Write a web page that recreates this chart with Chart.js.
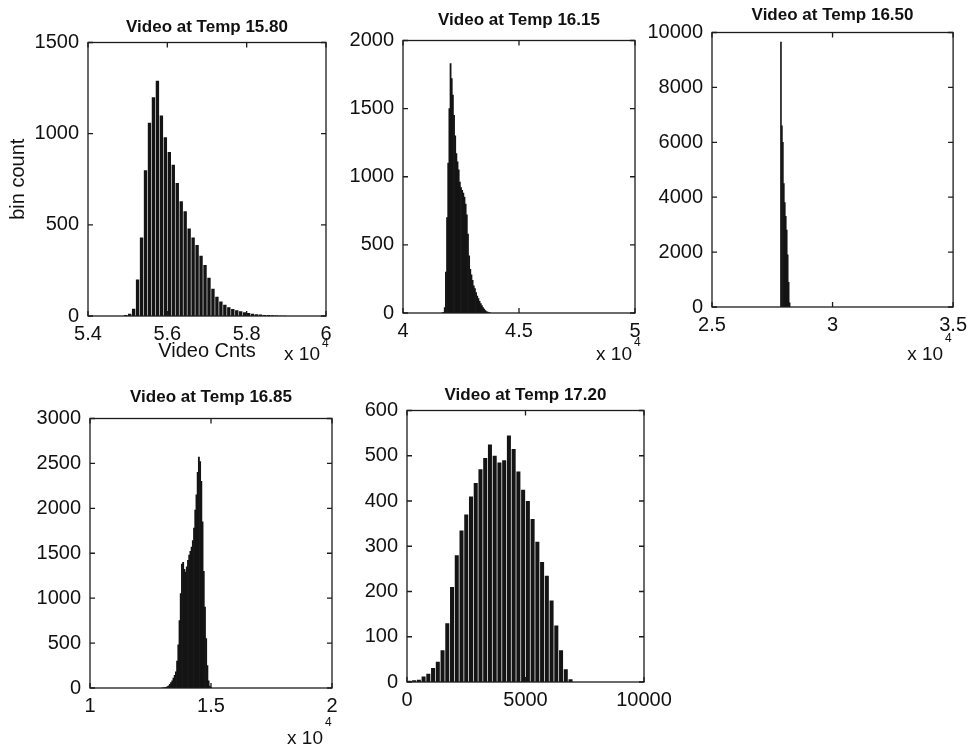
<!DOCTYPE html>
<html>
<head>
<meta charset="utf-8">
<title>Video histograms</title>
<script src="https://cdn.jsdelivr.net/npm/chart.js@4.4.1/dist/chart.umd.min.js"></script>
<style>
  html, body { margin: 0; padding: 0; background: #fff; }
  body { width: 973px; height: 746px; position: relative; overflow: hidden; }
  canvas { position: absolute; }
</style>
</head>
<body>
<canvas id="h1580"></canvas>
<canvas id="h1615"></canvas>
<canvas id="h1650"></canvas>
<canvas id="h1685"></canvas>
<canvas id="h1720"></canvas>
<script>
// Temp 15.80
const bins1580 = [54950, 55050, 55150, 55250, 55350, 55450, 55550, 55650, 55750, 55850,
  55950, 56050, 56150, 56250, 56350, 56450, 56550, 56650, 56750, 56850,
  56950, 57050, 57150, 57250, 57350, 57450, 57550, 57650, 57750, 57850,
  57950, 58050, 58150, 58250, 58350, 58450, 58550, 58650, 58750, 58850, 58950]
const counts1580 = [5, 12, 40, 200, 430, 800, 1060, 1200, 1290, 1100,
  980, 900, 830, 730, 630, 575, 480, 430, 390, 330,
  280, 210, 150, 105, 80, 62, 48, 38, 32, 26,
  20, 16, 12, 10, 8, 6, 5, 4, 3, 2, 2]

// Temp 16.15
const bins1615 = [41700, 41750, 41800, 41850, 41900, 41950, 42000, 42050, 42100, 42150,
  42200, 42250, 42300, 42350, 42400, 42450, 42500, 42550, 42600, 42650,
  42700, 42750, 42800, 42850, 42900, 42950, 43000, 43050, 43100, 43150,
  43200, 43250, 43300, 43350, 43400, 43450, 43500, 43550, 43600, 43650, 43700, 43750]
const counts1615 = [2, 5, 40, 300, 700, 1100, 1500, 1830, 1720, 1600,
  1450, 1300, 1170, 1110, 1050, 960, 920, 900, 880, 850,
  800, 720, 580, 420, 320, 280, 240, 200, 180, 150,
  125, 105, 85, 70, 55, 40, 28, 18, 10, 6, 3, 1]

// Temp 16.50
const bins1650 = [27860, 27900, 27940, 27980, 28020, 28060, 28100, 28140, 28180, 28220]
const counts1650 = [9650, 6600, 6000, 4500, 3800, 3300, 2800, 1900, 900, 150]

// Temp 16.85
const bins1685 = [13000, 13050, 13100, 13150, 13200, 13250, 13300, 13350, 13400, 13450,
  13500, 13550, 13600, 13650, 13700, 13750, 13800, 13850, 13900, 13950,
  14000, 14050, 14100, 14150, 14200, 14250, 14300, 14350, 14400, 14450,
  14500, 14550, 14600, 14650, 14700, 14750, 14800, 14850, 14900, 14950, 15000]
const counts1685 = [2, 3, 5, 8, 15, 25, 40, 60, 80, 110,
  140, 180, 300, 480, 750, 1050, 1380, 1400, 1320, 1290,
  1350, 1420, 1480, 1520, 1570, 1640, 1780, 1980, 2150, 2400,
  2570, 2520, 2300, 1850, 1300, 900, 550, 250, 80, 20, 5]

// Temp 17.20
const bins1720 = [100, 300, 500, 700, 900, 1100, 1300, 1500, 1700, 1900,
  2100, 2300, 2500, 2700, 2900, 3100, 3300, 3500, 3700, 3900,
  4100, 4300, 4500, 4700, 4900, 5100, 5300, 5500, 5700, 5900,
  6100, 6300, 6500, 6700, 6900]
const counts1720 = [3, 4, 5, 12, 18, 31, 45, 70, 130, 210,
  280, 335, 370, 410, 440, 470, 495, 525, 500, 485,
  490, 545, 515, 465, 425, 400, 360, 310, 265, 235,
  180, 125, 70, 28, 6]

// axis ticks
const xTicks1580 = [54000, 56000, 58000, 60000]
const xLabels1580 = ['5.4', '5.6', '5.8', '6']
const yTicks1580 = [0, 500, 1000, 1500]
const xTicks1615 = [40000, 45000, 50000]
const xLabels1615 = ['4', '4.5', '5']
const yTicks1615 = [0, 500, 1000, 1500, 2000]
const xTicks1650 = [25000, 30000, 35000]
const xLabels1650 = ['2.5', '3', '3.5']
const yTicks1650 = [0, 2000, 4000, 6000, 8000, 10000]
const xTicks1685 = [10000, 15000, 20000]
const xLabels1685 = ['1', '1.5', '2']
const yTicks1685 = [0, 500, 1000, 1500, 2000, 2500, 3000]
const xTicks1720 = [0, 5000, 10000]
const xLabels1720 = ['0', '5000', '10000']
const yTicks1720 = [0, 100, 200, 300, 400, 500, 600]

const titles = ['Video at Temp 15.80', 'Video at Temp 16.15', 'Video at Temp 16.50',
  'Video at Temp 16.85', 'Video at Temp 17.20']

;(() => {
  'use strict'

  Chart.defaults.font.family = '"Liberation Sans", Arial, sans-serif'
  Chart.defaults.color = '#111'

  // matlab style box with inward ticks, plus the "x 10^4" exponent
  const frame = {
    id: 'frame',
    afterDatasetsDraw(chart, args, opts) {
      const { ctx, chartArea: a, scales: { x, y } } = chart
      ctx.save()
      ctx.strokeStyle = '#1c1c1c'
      ctx.lineWidth = 1.3
      ctx.strokeRect(a.left, a.top, a.right - a.left, a.bottom - a.top)
      ctx.beginPath()
      x.ticks.forEach(t => {
        const px = x.getPixelForValue(t.value)
        ctx.moveTo(px, a.bottom); ctx.lineTo(px, a.bottom - 5)
        ctx.moveTo(px, a.top); ctx.lineTo(px, a.top + 5)
      })
      y.ticks.forEach(t => {
        const py = y.getPixelForValue(t.value)
        ctx.moveTo(a.left, py); ctx.lineTo(a.left + 5, py)
        ctx.moveTo(a.right, py); ctx.lineTo(a.right - 5, py)
      })
      ctx.stroke()
      if (opts.dy) {
        ctx.fillStyle = '#111'
        ctx.textBaseline = 'alphabetic'
        ctx.font = '19px "Liberation Sans", Arial, sans-serif'
        ctx.textAlign = 'right'
        ctx.fillText('x 10', a.right + opts.dx, a.bottom + opts.dy)
        ctx.font = '12px "Liberation Sans", Arial, sans-serif'
        ctx.textAlign = 'left'
        ctx.fillText('4', a.right + opts.dx + 2, a.bottom + opts.sy)
      }
      ctx.restore()
    }
  }

  function hist (id, p) {
    const el = document.getElementById(id)
    const titleH = 19 + p.tb
    const xH = 50
    const padB = 14
    el.width = p.yW + (p.R - p.L) + p.rp
    el.height = titleH + (p.B - p.T) + xH + padB
    el.style.left = (p.L - p.yW) + 'px'
    el.style.top = (p.T - titleH) + 'px'

    return new Chart(el, {
      type: 'bar',
      data: {
        datasets: [{
          data: p.bins.map((b, i) => ({ x: b, y: p.counts[i] })),
          backgroundColor: '#141414',
          borderWidth: 0,
          barPercentage: p.bar,
          categoryPercentage: 1
        }]
      },
      plugins: [frame],
      options: {
        responsive: false,
        animation: false,
        layout: { padding: { left: 0, top: 0, right: p.rp, bottom: padB } },
        plugins: {
          legend: { display: false },
          tooltip: { enabled: false },
          title: {
            display: true,
            text: p.title,
            fullSize: false,
            color: '#111',
            font: { size: 17, weight: 'bold', lineHeight: 1 },
            padding: { top: 2, bottom: p.tb }
          },
          frame: p.expo || {}
        },
        scales: {
          x: {
            type: 'linear',
            min: p.xTicks[0],
            max: p.xTicks[p.xTicks.length - 1],
            offset: false,
            grid: { display: false, drawTicks: false },
            border: { display: false },
            afterBuildTicks: s => { s.ticks = p.xTicks.map(v => ({ value: v })) },
            afterFit: s => { s.height = xH },
            ticks: {
              autoSkip: false,
              maxRotation: 0,
              padding: 6,
              font: { size: 20 },
              callback: (v, i) => p.xLabels[i]
            },
            title: {
              display: !!p.xTitle,
              text: p.xTitle || '',
              font: { size: 20 },
              padding: { top: 0, bottom: 3 }
            }
          },
          y: {
            min: 0,
            max: p.yTicks[p.yTicks.length - 1],
            grid: { display: false, drawTicks: false },
            border: { display: false },
            afterBuildTicks: s => { s.ticks = p.yTicks.map(v => ({ value: v })) },
            afterFit: s => { s.width = p.yW },
            ticks: { autoSkip: false, padding: 9, font: { size: 20 }, callback: v => String(v) },
            title: {
              display: !!p.yTitle,
              text: p.yTitle || '',
              font: { size: 20 },
              padding: { top: 6, bottom: 0 }
            }
          }
        }
      }
    })
  }

  hist('h1580', {
    L: 88, T: 42, R: 326, B: 316, yW: 88, rp: 30, tb: 6.5, bar: 0.85,
    bins: bins1580, counts: counts1580, title: titles[0],
    xTicks: xTicks1580, xLabels: xLabels1580, yTicks: yTicks1580,
    xTitle: 'Video Cnts', yTitle: 'bin count', expo: { dx: -6, dy: 44, sy: 31 }
  })
  hist('h1615', {
    L: 403, T: 40, R: 635, B: 313, yW: 80, rp: 30, tb: 11.5, bar: 1,
    bins: bins1615, counts: counts1615, title: titles[1],
    xTicks: xTicks1615, xLabels: xLabels1615, yTicks: yTicks1615,
    expo: { dx: -3, dy: 47, sy: 33 }
  })
  hist('h1650', {
    L: 712, T: 32, R: 955, B: 307, yW: 80, rp: 18, tb: 8.5, bar: 1,
    bins: bins1650, counts: counts1650, title: titles[2],
    xTicks: xTicks1650, xLabels: xLabels1650, yTicks: yTicks1650,
    expo: { dx: -10, dy: 53, sy: 35 }
  })
  hist('h1685', {
    L: 90, T: 418, R: 332, B: 688, yW: 80, rp: 30, tb: 12.5, bar: 1,
    bins: bins1685, counts: counts1685, title: titles[3],
    xTicks: xTicks1685, xLabels: xLabels1685, yTicks: yTicks1685,
    expo: { dx: -9, dy: 56, sy: 38 }
  })
  hist('h1720', {
    L: 407, T: 410, R: 644, B: 682, yW: 80, rp: 34, tb: 6.5, bar: 0.85,
    bins: bins1720, counts: counts1720, title: titles[4],
    xTicks: xTicks1720, xLabels: xLabels1720, yTicks: yTicks1720
  })
})()
</script>
</body>
</html>
